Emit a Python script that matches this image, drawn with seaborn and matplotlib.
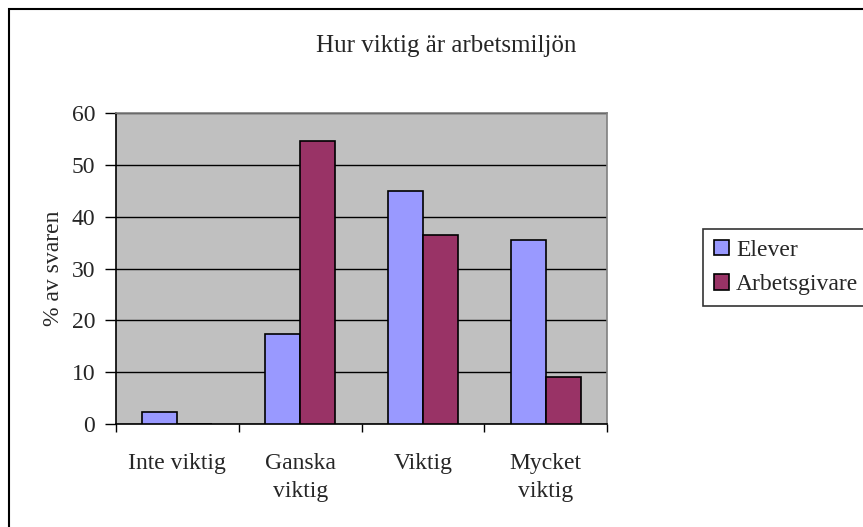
import matplotlib
matplotlib.use("Agg")
import matplotlib.pyplot as plt
import seaborn as sns
import pandas as pd
from matplotlib.patches import Rectangle

# data
categories = ["Inte viktig", "Ganska\nviktig", "Viktig", "Mycket\nviktig"]
elever = [2.4, 17.3, 45.0, 35.5]
arbetsgivare = [0.0, 54.6, 36.5, 9.0]
series_names = ["Elever", "Arbetsgivare"]
yticks = [0, 10, 20, 30, 40, 50, 60]

df = pd.DataFrame({
    "Kategori": categories * 2,
    "Procent": elever + arbetsgivare,
    "Grupp": [series_names[0]] * 4 + [series_names[1]] * 4,
})

sns.set_style("white")
plt.rcParams["font.family"] = ["Liberation Serif", "DejaVu Serif"]

fig = plt.figure(figsize=(8.63, 5.27), dpi=100)
ax = fig.add_axes([0.1344, 0.1954, 0.569, 0.590])
ax.set_facecolor("#C0C0C0")

sns.barplot(data=df, x="Kategori", y="Procent", hue="Grupp", ax=ax,
            palette=["#9999FF", "#993366"], saturation=1, width=0.57, gap=0,
            edgecolor="black", linewidth=1.2, legend=False, zorder=3)

ax.set_ylim(0, 60)
ax.set_xlim(-0.5, 3.5)
ax.set_yticks(yticks)
ax.set_yticklabels([str(t) for t in yticks], fontsize=17)
ax.yaxis.grid(True, color="black", linewidth=1, zorder=1)
ax.set_axisbelow(True)
ax.tick_params(axis="y", length=8, width=1, color="black", pad=7, left=True, direction="out")

# ticks between the categories, labels at the centres
ax.set_xticks([-0.5, 0.5, 1.5, 2.5, 3.5])
ax.set_xticklabels([])
ax.set_xticks(range(len(categories)), minor=True)
ax.set_xticklabels(categories, minor=True, fontsize=17, linespacing=1.45)
ax.tick_params(axis="x", which="major", length=6, width=1, color="black", direction="out", bottom=True)
ax.tick_params(axis="x", which="minor", length=0, pad=21)

ax.set_xlabel("")
ax.set_ylabel("% av svaren", fontsize=17)
ax.yaxis.set_label_coords(-0.106, 0.5)

for side in ["top", "right"]:
    ax.spines[side].set_color("#808080")
    ax.spines[side].set_linewidth(1.2)
for side in ["left", "bottom"]:
    ax.spines[side].set_color("black")
    ax.spines[side].set_linewidth(1.2)

fig.text(0.517, 0.913, "Hur viktig är arbetsmiljön", fontsize=18, ha="center", va="center")

handles = [Rectangle((0, 0), 1, 1, facecolor=c, edgecolor="black", linewidth=1.2)
           for c in ["#9999FF", "#993366"]]
leg = fig.legend(handles, series_names, loc="upper left", bbox_to_anchor=(0.8146, 0.5655),
                 fontsize=17, frameon=True, fancybox=False, edgecolor="black",
                 handlelength=0.65, handleheight=0.65, handletextpad=0.3,
                 borderpad=0.45, labelspacing=0.55, borderaxespad=0)
leg.get_frame().set_linewidth(1.2)

# outer chart frame, cut off at right and bottom like the reference
fig.patches.append(Rectangle((0.0104, -0.1), 1.2, 1.083, transform=fig.transFigure,
                             fill=False, edgecolor="black", linewidth=1.5))

fig.savefig("out.png", dpi=100)
